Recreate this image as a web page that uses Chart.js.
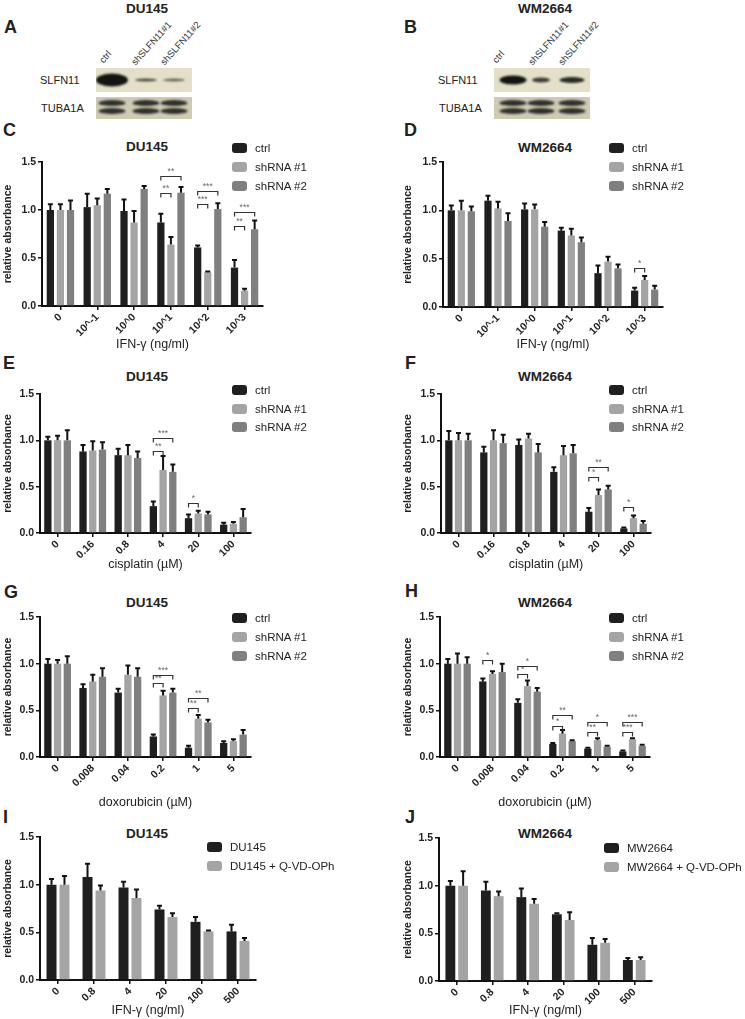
<!DOCTYPE html>
<html>
<head>
<meta charset="utf-8">
<script src="https://cdn.jsdelivr.net/npm/chart.js@4.4.1/dist/chart.umd.min.js"></script>
<style>
body { margin: 0; background: #fff; }
#fig { position: relative; width: 745px; height: 1019px; overflow: hidden; font-family: 'Liberation Sans', Arial, sans-serif; color: #222; }
#fig canvas { position: absolute; }
.abs { position: absolute; white-space: nowrap; }
.letter { font-size: 18px; font-weight: bold; transform: translateY(-50%); }
.ttl { font-size: 13.5px; font-weight: bold; transform: translate(-50%, -50%); }
.leg { position: absolute; font-size: 11.5px; display: flex; align-items: center; transform: translateY(-50%); white-space: nowrap; }
.sw { display: inline-block; width: 15px; height: 10px; border-radius: 3px; margin-right: 8px; }
.strip { position: absolute; background: #e4e0c8; overflow: hidden; }
.band { position: absolute; border-radius: 50%; background: #141414; filter: blur(1.1px); transform: translate(-50%, -50%); }
.lane { position: absolute; font-size: 9.5px; color: #333; transform-origin: 0 100%; transform: rotate(-48deg); white-space: nowrap; -webkit-font-smoothing: antialiased; }
.rowlab { position: absolute; font-size: 11px; transform: translateY(-50%); white-space: nowrap; }
</style>
</head>
<body>
<div id="fig"></div>
<script>
// ---- categories ----
const ifnLabels = ['0', '10^-1', '10^0', '10^1', '10^2', '10^3'];
const cisLabels = ['0', '0.16', '0.8', '4', '20', '100'];
const doxLabels = ['0', '0.008', '0.04', '0.2', '1', '5'];
const ifnLabels2 = ['0', '0.8', '4', '20', '100', '500'];
const shNames = ['ctrl', 'shRNA #1', 'shRNA #2'];
const duQNames = ['DU145', 'DU145 + Q-VD-OPh'];
const wmQNames = ['MW2664', 'MW2664 + Q-VD-OPh'];

// ---- C: DU145, IFN-g ----
const duIfnCtrl = [1.00, 1.03, 0.99, 0.87, 0.61, 0.40];
const duIfnCtrlErr = [0.06, 0.14, 0.12, 0.09, 0.02, 0.08];
const duIfnSh1 = [1.00, 1.05, 0.87, 0.64, 0.35, 0.16];
const duIfnSh1Err = [0.06, 0.07, 0.12, 0.08, 0.01, 0.02];
const duIfnSh2 = [1.00, 1.17, 1.22, 1.18, 1.01, 0.80];
const duIfnSh2Err = [0.10, 0.05, 0.03, 0.06, 0.06, 0.09];
// [group, compared bar, label, bracket height]
const duIfnSig = [[3, 1, '**', 1.18], [3, 2, '**', 1.35], [4, 1, '***', 1.06], [4, 2, '***', 1.20], [5, 1, '**', 0.83], [5, 2, '***', 0.98]];

// ---- D: WM2664, IFN-g ----
const wmIfnCtrl = [1.00, 1.10, 1.01, 0.79, 0.35, 0.17];
const wmIfnCtrlErr = [0.05, 0.05, 0.06, 0.03, 0.08, 0.03];
const wmIfnSh1 = [1.00, 1.02, 1.01, 0.74, 0.47, 0.28];
const wmIfnSh1Err = [0.10, 0.07, 0.05, 0.07, 0.05, 0.04];
const wmIfnSh2 = [0.99, 0.89, 0.83, 0.67, 0.40, 0.18];
const wmIfnSh2Err = [0.05, 0.08, 0.05, 0.05, 0.04, 0.04];
const wmIfnSig = [[5, 1, '*', 0.40]];

// ---- E: DU145, cisplatin ----
const duCisCtrl = [1.00, 0.88, 0.84, 0.29, 0.16, 0.09];
const duCisCtrlErr = [0.04, 0.07, 0.07, 0.05, 0.04, 0.02];
const duCisSh1 = [1.00, 0.89, 0.84, 0.68, 0.21, 0.10];
const duCisSh1Err = [0.05, 0.10, 0.11, 0.15, 0.03, 0.02];
const duCisSh2 = [1.00, 0.90, 0.81, 0.66, 0.20, 0.17];
const duCisSh2Err = [0.11, 0.08, 0.07, 0.08, 0.03, 0.09];
const duCisSig = [[3, 1, '**', 0.89], [3, 2, '***', 1.02], [4, 1, '*', 0.32]];

// ---- F: WM2664, cisplatin ----
const wmCisCtrl = [1.00, 0.87, 0.95, 0.66, 0.23, 0.05];
const wmCisCtrlErr = [0.10, 0.06, 0.06, 0.05, 0.04, 0.01];
const wmCisSh1 = [1.00, 1.00, 1.02, 0.84, 0.41, 0.16];
const wmCisSh1Err = [0.08, 0.11, 0.05, 0.10, 0.06, 0.03];
const wmCisSh2 = [1.00, 0.97, 0.87, 0.86, 0.47, 0.10];
const wmCisSh2Err = [0.07, 0.09, 0.09, 0.09, 0.04, 0.03];
const wmCisSig = [[4, 1, '*', 0.60], [4, 2, '**', 0.71], [5, 1, '*', 0.28]];

// ---- G: DU145, doxorubicin ----
const duDoxCtrl = [1.00, 0.74, 0.69, 0.22, 0.10, 0.15];
const duDoxCtrlErr = [0.05, 0.04, 0.04, 0.02, 0.02, 0.02];
const duDoxSh1 = [1.00, 0.81, 0.88, 0.66, 0.41, 0.17];
const duDoxSh1Err = [0.04, 0.07, 0.10, 0.05, 0.04, 0.02];
const duDoxSh2 = [1.00, 0.86, 0.86, 0.69, 0.37, 0.24];
const duDoxSh2Err = [0.08, 0.09, 0.09, 0.04, 0.03, 0.05];
const duDoxSig = [[3, 1, '**', 0.79], [3, 2, '***', 0.875], [4, 1, '**', 0.52], [4, 2, '**', 0.63]];

// ---- H: WM2664, doxorubicin ----
const wmDoxCtrl = [1.00, 0.81, 0.58, 0.14, 0.09, 0.06];
const wmDoxCtrlErr = [0.05, 0.03, 0.04, 0.01, 0.01, 0.01];
const wmDoxSh1 = [1.00, 0.89, 0.76, 0.25, 0.18, 0.19];
const wmDoxSh1Err = [0.11, 0.03, 0.06, 0.04, 0.02, 0.01];
const wmDoxSh2 = [1.00, 0.91, 0.70, 0.17, 0.11, 0.12];
const wmDoxSh2Err = [0.07, 0.09, 0.04, 0.01, 0.01, 0.01];
const wmDoxSig = [[1, 1, '*', 1.04], [2, 1, '*', 0.89], [2, 2, '*', 0.98], [3, 1, '*', 0.33], [3, 2, '**', 0.45],
                  [4, 1, '**', 0.27], [4, 2, '*', 0.38], [5, 1, '***', 0.27], [5, 2, '***', 0.38]];

// ---- I: DU145 +/- Q-VD-OPh ----
const duIfn2 = [1.00, 1.08, 0.97, 0.74, 0.61, 0.51];
const duIfn2Err = [0.06, 0.14, 0.06, 0.04, 0.05, 0.07];
const duIfn2Q = [1.00, 0.94, 0.86, 0.66, 0.51, 0.41];
const duIfn2QErr = [0.09, 0.05, 0.09, 0.04, 0.01, 0.03];

// ---- J: WM2664 +/- Q-VD-OPh ----
const wmIfn2 = [1.00, 0.95, 0.88, 0.70, 0.38, 0.22];
const wmIfn2Err = [0.05, 0.09, 0.09, 0.01, 0.07, 0.02];
const wmIfn2Q = [1.00, 0.89, 0.81, 0.64, 0.40, 0.22];
const wmIfn2QErr = [0.15, 0.05, 0.05, 0.08, 0.04, 0.03];

const FONT = "'Liberation Sans', Arial, sans-serif";
const col3 = ['#1f1f1f', '#a4a4a4', '#7f7f7f'];
const col2 = ['#1f1f1f', '#a4a4a4'];
const fig = document.getElementById('fig');

function addText(cls, text, x, y) {
    const d = document.createElement('div');
    d.className = 'abs ' + cls;
    d.textContent = text;
    d.style.left = x + 'px';
    d.style.top = y + 'px';
    fig.appendChild(d);
    return d;
}

function addLegend(names, colors, x, y0, step) {
    names.forEach((n, i) => {
        const d = document.createElement('div');
        d.className = 'leg';
        d.style.left = x + 'px';
        d.style.top = (y0 + i * step) + 'px';
        d.innerHTML = `<span class="sw" style="background:${colors[i]}"></span><span></span>`;
        d.lastChild.textContent = n;
        fig.appendChild(d);
    });
}

// error bars (upper whisker only)
const errorBars = {
    id: 'errorBars',
    afterDatasetsDraw(chart) {
        const ctx = chart.ctx;
        const y = chart.scales.y;
        ctx.save();
        ctx.strokeStyle = '#111';
        ctx.lineWidth = 2;
        chart.data.datasets.forEach((ds, i) => {
            chart.getDatasetMeta(i).data.forEach((bar, j) => {
                const top = y.getPixelForValue(ds.data[j] + ds.errors[j]);
                ctx.beginPath();
                ctx.moveTo(bar.x, bar.y);
                ctx.lineTo(bar.x, top);
                ctx.moveTo(bar.x - 2.5, top);
                ctx.lineTo(bar.x + 2.5, top);
                ctx.stroke();
            });
        });
        ctx.restore();
    }
};

function brackets(sig) {
    return {
        id: 'sigBrackets',
        afterDatasetsDraw(chart) {
            const ctx = chart.ctx;
            const y = chart.scales.y;
            ctx.save();
            sig.forEach(([g, b, lab, v]) => {
                const x1 = chart.getDatasetMeta(0).data[g].x;
                const x2 = chart.getDatasetMeta(b).data[g].x;
                const py = Math.round(y.getPixelForValue(v)) + 0.5;
                ctx.strokeStyle = '#333';
                ctx.lineWidth = 1.2;
                ctx.beginPath();
                ctx.moveTo(x1, py + 4);
                ctx.lineTo(x1, py);
                ctx.lineTo(x2, py);
                ctx.lineTo(x2, py + 4);
                ctx.stroke();
                ctx.fillStyle = '#666';
                ctx.font = '8.5px ' + FONT;
                ctx.textAlign = 'center';
                ctx.textBaseline = 'bottom';
                ctx.fillText(lab, (x1 + x2) / 2, py - 1);
            });
            ctx.restore();
        }
    };
}

function panel(p) {
    const w = p.plotRight + 6 - p.cx;
    const h = Math.round(p.xTitleY + 7 - p.cy);
    const cv = document.createElement('canvas');
    cv.width = w; cv.height = h;
    cv.style.left = p.cx + 'px'; cv.style.top = p.cy + 'px';
    cv.style.width = w + 'px'; cv.style.height = h + 'px';
    fig.appendChild(cv);
    const axisLine = { display: true, color: '#111', width: 2 };
    const tickGrid = { display: true, drawOnChartArea: false, offset: false, color: '#111', lineWidth: 1.5, tickLength: 4 };
    new Chart(cv, {
        type: 'bar',
        data: {
            labels: p.labels,
            datasets: p.series.map((d, i) => ({
                label: p.names[i], data: d, errors: p.errors[i],
                backgroundColor: p.colors[i], borderWidth: 0,
                categoryPercentage: p.cat, barPercentage: p.bar
            }))
        },
        options: {
            responsive: false, animation: false, devicePixelRatio: 1,
            layout: { padding: { top: p.plotTop - p.cy, right: 6, left: 0, bottom: 0 } },
            plugins: { legend: { display: false }, tooltip: { enabled: false } },
            scales: {
                x: {
                    grid: tickGrid, border: axisLine,
                    ticks: { autoSkip: false, minRotation: 45, maxRotation: 45, padding: 1, color: '#222',
                             font: { family: FONT, size: 10.5, weight: 'bold' } },
                    title: { display: true, text: p.xTitle, color: '#222', padding: { top: 0, bottom: 0 },
                             font: { family: FONT, size: 12.5 } },
                    afterFit(s) { s.height = p.cy + h - p.plotBottom; }
                },
                y: {
                    min: 0, max: 1.5,
                    grid: tickGrid, border: axisLine,
                    ticks: { stepSize: 0.5, padding: 2, color: '#222', callback: v => v.toFixed(1),
                             font: { family: FONT, size: 10.5, weight: 'bold' } },
                    title: { display: true, text: 'relative absorbance', color: '#222', padding: { top: 2, bottom: 0 },
                             font: { family: FONT, size: 10.5, weight: 'bold' } },
                    afterFit(s) { s.width = p.yAxisX - p.cx; }
                }
            }
        },
        plugins: [errorBars, brackets(p.sig || [])]
    });
}

// ---- western blots (A, B) ----
function blot(x, lanes, slfn) {
    const s1 = document.createElement('div');
    s1.className = 'strip';
    Object.assign(s1.style, { left: x + 'px', top: '68px', width: '96px', height: '24px' });
    lanes.forEach((lx, i) => {
        const b = document.createElement('div');
        b.className = 'band';
        Object.assign(b.style, { left: lx + 'px', top: '12px', width: slfn[i][0] + 'px', height: slfn[i][1] + 'px', opacity: slfn[i][2] });
        s1.appendChild(b);
    });
    fig.appendChild(s1);
    const s2 = document.createElement('div');
    s2.className = 'strip';
    Object.assign(s2.style, { left: x + 'px', top: '97px', width: '96px', height: '22px', background: '#cfcab3' });
    lanes.forEach(lx => {
        [6, 14].forEach(by => {
            const b = document.createElement('div');
            b.className = 'band';
            Object.assign(b.style, { left: lx + 'px', top: by + 'px', width: '27px', height: '6px', opacity: 0.85 });
            s2.appendChild(b);
        });
    });
    fig.appendChild(s2);
}

addText('ttl', 'DU145', 147, 8);
addText('ttl', 'WM2664', 545, 8);
addText('letter', 'A', 4, 27);
addText('letter', 'B', 404, 27);
blot(96, [16, 50, 78], [[32, 13, 1], [22, 3, 0.75], [22, 3, 0.6]]);
blot(494, [19, 47, 78], [[27, 9, 1], [18, 5, 0.8], [25, 6, 0.9]]);
addText('rowlab', 'SLFN11', 40, 80);
addText('rowlab', 'TUBA1A', 41, 108);
addText('rowlab', 'SLFN11', 438, 80);
addText('rowlab', 'TUBA1A', 439, 108);
[['ctrl', 105, 54], ['shSLFN11#1', 137, 56], ['shSLFN11#2', 166, 56],
 ['ctrl', 498, 54], ['shSLFN11#1', 534, 56], ['shSLFN11#2', 564, 56]].forEach(([t, x, y]) => {
    const d = addText('lane', t, x, y);
    d.className = 'lane';
});

// ---- panel letters and titles ----
[['C', 3, 130], ['D', 404, 130], ['E', 3, 363], ['F', 405, 363], ['G', 4, 592], ['H', 405, 591], ['I', 3, 817], ['J', 405, 817]]
    .forEach(([t, x, y]) => addText('letter', t, x, y));
[['DU145', 147, 146], ['WM2664', 545, 147], ['DU145', 147, 376], ['WM2664', 545, 376],
 ['DU145', 147, 602], ['WM2664', 545, 602], ['DU145', 147, 833], ['WM2664', 545, 833]]
    .forEach(([t, x, y]) => addText('ttl', t, x, y));

// ---- charts ----
panel({ cx: 0, cy: 150, yAxisX: 42, plotRight: 263, plotTop: 162, plotBottom: 306, xTitleY: 345,
        labels: ifnLabels, series: [duIfnCtrl, duIfnSh1, duIfnSh2], errors: [duIfnCtrlErr, duIfnSh1Err, duIfnSh2Err],
        names: shNames, colors: col3, sig: duIfnSig, xTitle: 'IFN-γ (ng/ml)', cat: 0.82, bar: 0.72 });
panel({ cx: 400, cy: 150, yAxisX: 443, plotRight: 663, plotTop: 162, plotBottom: 307, xTitleY: 345,
        labels: ifnLabels, series: [wmIfnCtrl, wmIfnSh1, wmIfnSh2], errors: [wmIfnCtrlErr, wmIfnSh1Err, wmIfnSh2Err],
        names: shNames, colors: col3, sig: wmIfnSig, xTitle: 'IFN-γ (ng/ml)', cat: 0.82, bar: 0.72 });
panel({ cx: 0, cy: 382, yAxisX: 40, plotRight: 251, plotTop: 394, plotBottom: 533, xTitleY: 565,
        labels: cisLabels, series: [duCisCtrl, duCisSh1, duCisSh2], errors: [duCisCtrlErr, duCisSh1Err, duCisSh2Err],
        names: shNames, colors: col3, sig: duCisSig, xTitle: 'cisplatin (µM)', cat: 0.83, bar: 0.75 });
panel({ cx: 400, cy: 382, yAxisX: 441, plotRight: 651, plotTop: 394, plotBottom: 533, xTitleY: 565,
        labels: cisLabels, series: [wmCisCtrl, wmCisSh1, wmCisSh2], errors: [wmCisCtrlErr, wmCisSh1Err, wmCisSh2Err],
        names: shNames, colors: col3, sig: wmCisSig, xTitle: 'cisplatin (µM)', cat: 0.83, bar: 0.75 });
panel({ cx: 0, cy: 605, yAxisX: 40, plotRight: 251, plotTop: 617, plotBottom: 757, xTitleY: 803,
        labels: doxLabels, series: [duDoxCtrl, duDoxSh1, duDoxSh2], errors: [duDoxCtrlErr, duDoxSh1Err, duDoxSh2Err],
        names: shNames, colors: col3, sig: duDoxSig, xTitle: 'doxorubicin (µM)', cat: 0.83, bar: 0.75 });
panel({ cx: 400, cy: 605, yAxisX: 440, plotRight: 650, plotTop: 617, plotBottom: 757, xTitleY: 803,
        labels: doxLabels, series: [wmDoxCtrl, wmDoxSh1, wmDoxSh2], errors: [wmDoxCtrlErr, wmDoxSh1Err, wmDoxSh2Err],
        names: shNames, colors: col3, sig: wmDoxSig, xTitle: 'doxorubicin (µM)', cat: 0.83, bar: 0.75 });
panel({ cx: 0, cy: 825, yAxisX: 40, plotRight: 256, plotTop: 837, plotBottom: 980, xTitleY: 1011,
        labels: ifnLabels2, series: [duIfn2, duIfn2Q], errors: [duIfn2Err, duIfn2QErr],
        names: duQNames, colors: col2, xTitle: 'IFN-γ (ng/ml)', cat: 0.72, bar: 0.77 });
panel({ cx: 400, cy: 826, yAxisX: 439, plotRight: 652, plotTop: 838, plotBottom: 981, xTitleY: 1011,
        labels: ifnLabels2, series: [wmIfn2, wmIfn2Q], errors: [wmIfn2Err, wmIfn2QErr],
        names: wmQNames, colors: col2, xTitle: 'IFN-γ (ng/ml)', cat: 0.72, bar: 0.77 });

// ---- legends ----
addLegend(shNames, col3, 232, 148, 19);
addLegend(shNames, col3, 609, 148, 19);
addLegend(shNames, col3, 232, 390, 18.5);
addLegend(shNames, col3, 609, 390, 18.5);
addLegend(shNames, col3, 232, 618, 19);
addLegend(shNames, col3, 609, 618, 19);
addLegend(duQNames, col2, 207, 847, 19);
addLegend(wmQNames, col2, 604, 848, 19);
</script>
</body>
</html>
